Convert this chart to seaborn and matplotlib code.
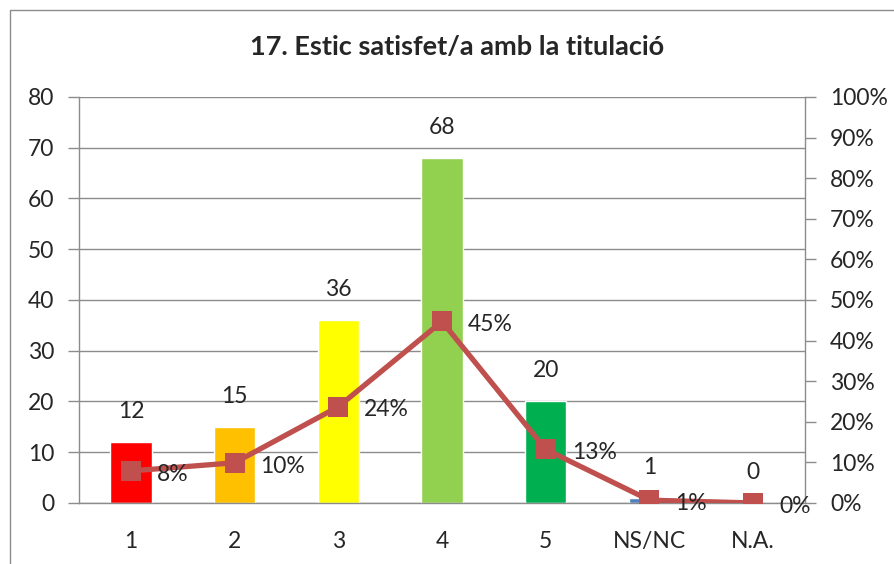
import numpy as np
import pandas as pd
import seaborn as sns
import matplotlib.pyplot as plt
from matplotlib.patches import Rectangle
from matplotlib.ticker import FuncFormatter

sns.set_style("white")
plt.rcParams['font.family'] = ['Lato', 'DejaVu Sans']

# data
categories = ["1", "2", "3", "4", "5", "NS/NC", "N.A."]
counts = [12, 15, 36, 68, 20, 1, 0]
percents = [7.9, 9.9, 23.7, 44.7, 13.2, 0.7, 0.0]
pct_labels = ["8%", "10%", "24%", "45%", "13%", "1%", "0%"]
bar_colors = ["#FF0000", "#FFC000", "#FFFF00", "#92D050", "#00B050", "#4F81BD", "#C0504D"]

title = "17. Estic satisfet/a amb la titulació"
line_color = "#C0504D"
grid_color = "#8C8C8C"
fs = 16.5

df = pd.DataFrame({"cat": categories, "n": counts, "pct": percents})

fig = plt.figure(figsize=(8.94, 5.64), dpi=100)
ax = fig.add_axes([0.0884, 0.1082, 0.812, 0.7199])

sns.barplot(data=df, x="cat", y="n", hue="cat", palette=bar_colors,
            width=0.4, saturation=1, legend=False, ax=ax, zorder=2)
ax.set_xlim(-0.5, 6.5)
ax.set_ylim(0, 80)
ax.set_yticks(range(0, 81, 10))
ax.yaxis.grid(True, color=grid_color, linewidth=1)
ax.set_axisbelow(True)
ax.set_xlabel("")
ax.set_ylabel("")
ax.set_xticks(np.arange(-0.5, 7, 1), minor=False)
ax.set_xticklabels([])
ax.set_xticks(range(7), minor=True)
ax.set_xticklabels(categories, minor=True, fontsize=fs)
ax.tick_params(axis="x", which="major", length=8, color=grid_color, width=1, direction="out")
ax.tick_params(axis="x", which="minor", length=0, pad=20)
ax.tick_params(axis="y", length=8, color=grid_color, width=1, labelsize=fs, pad=10)
for s in ["top", "right"]:
    ax.spines[s].set_visible(False)
for s in ["left", "bottom"]:
    ax.spines[s].set_color(grid_color)
    ax.spines[s].set_linewidth(1)

for i, v in enumerate(counts):
    ax.text(i, v + 4.0, str(v), ha="center", va="bottom", fontsize=fs)

ax2 = ax.twinx()
sns.lineplot(x=np.arange(7), y=df["pct"], ax=ax2, color=line_color, linewidth=3.8,
             marker="s", markersize=15, markeredgewidth=0, zorder=3)
ax2.set_ylim(0, 100)
ax2.set_yticks(range(0, 101, 10))
ax2.yaxis.set_major_formatter(FuncFormatter(lambda v, p: f"{int(v)}%"))
ax2.tick_params(axis="y", length=8, color=grid_color, width=1, labelsize=fs, pad=10)
ax2.set_ylabel("")
for s in ["top", "left", "bottom"]:
    ax2.spines[s].set_visible(False)
ax2.spines["right"].set_color(grid_color)
ax2.spines["right"].set_linewidth(1)

for i, (p, lab) in enumerate(zip(percents, pct_labels)):
    ax2.text(i + 0.25, p - 0.8, lab, ha="left", va="center", fontsize=fs)

fig.text(0.511, 0.917, title, ha="center", va="center", fontsize=19.5, fontweight="bold")

fig.patches.append(Rectangle((10 / 894, -0.1), 1.2, 1.1 - 10 / 564,
                             transform=fig.transFigure, fill=False,
                             edgecolor="#8C8C8C", linewidth=1))

fig.savefig("out.png", dpi=100)
